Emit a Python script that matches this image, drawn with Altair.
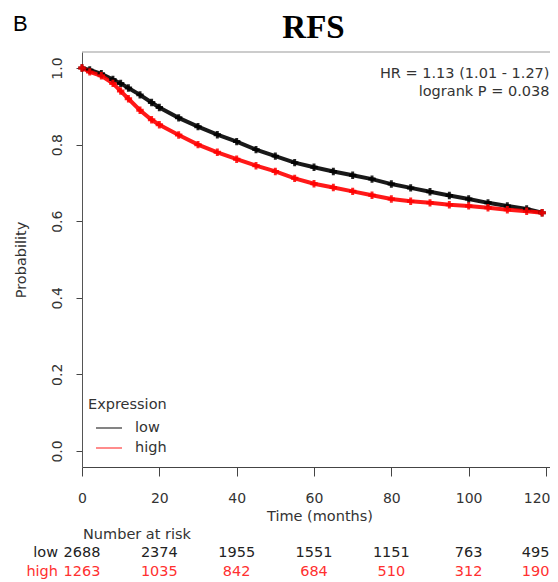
import altair as alt
import pandas as pd

# ---- data ----
times = [0, 2, 5, 8, 10, 12, 15, 18, 20, 25, 30, 35, 40, 45, 50, 55, 60, 65, 70, 75,
         80, 85, 90, 95, 100, 105, 110, 115, 119]
low_prob = [1.0, 0.995, 0.985, 0.97, 0.96, 0.948, 0.93, 0.91, 0.897, 0.87, 0.847, 0.826,
            0.808, 0.787, 0.77, 0.753, 0.741, 0.73, 0.72, 0.71, 0.697, 0.687, 0.677, 0.667,
            0.658, 0.648, 0.64, 0.632, 0.622]
high_prob = [1.0, 0.99, 0.98, 0.96, 0.94, 0.92, 0.89, 0.865, 0.852, 0.825, 0.8, 0.78,
             0.762, 0.745, 0.73, 0.712, 0.698, 0.688, 0.678, 0.668, 0.658, 0.652, 0.648,
             0.643, 0.64, 0.635, 0.63, 0.626, 0.622]

groups = ["low", "high"]
group_colors = ["#000000", "#ff0000"]

x_ticks = [0, 20, 40, 60, 80, 100, 120]
y_ticks = [0.0, 0.2, 0.4, 0.6, 0.8, 1.0]

risk_times = [0, 20, 40, 60, 80, 100, 120]
low_risk = [2688, 2374, 1955, 1551, 1151, 763, 495]
high_risk = [1263, 1035, 842, 684, 510, 312, 190]

panel_label = "B"
title_text = "RFS"
hr_text = "HR = 1.13 (1.01 - 1.27)"
p_text = "logrank P = 0.038"
x_title = "Time (months)"
y_title = "Probability"
legend_title = "Expression"
risk_title = "Number at risk"

FONT = "DejaVu Sans"
FS = 14.5
W, H = 468, 415          # svg stays inside the 542px body so the page is not rescaled
PX_PER_MONTH = 464 / 120
TOP = 44
BOTTOM = 113

df = pd.concat([
    pd.DataFrame({"time": times, "prob": low_prob, "group": "low"}),
    pd.DataFrame({"time": times, "prob": high_prob, "group": "high"}),
])

xscale = alt.Scale(domain=[0, W / PX_PER_MONTH], nice=False, zero=False)
yscale = alt.Scale(domain=[-0.042, 1.042], nice=False, zero=False)
cscale = alt.Scale(domain=groups, range=group_colors)

last_tick = x_ticks[-1]
xaxis = alt.Axis(values=x_ticks, title=None, grid=False, tickSize=9, tickColor="#444",
                 domainColor="#444", labelFontSize=14, labelColor="#333", labelFont=FONT,
                 labelPadding=15, format="d", labelFlush=False, labelOverlap=False,
                 labelAlign={"condition": {"test": f"datum.value === {last_tick}", "value": "right"},
                             "value": "center"},
                 labelOffset={"condition": {"test": f"datum.value === {last_tick}", "value": 4},
                              "value": 0})
yaxis = alt.Axis(values=y_ticks, title=None, grid=False, tickSize=6, tickColor="#444",
                 domainColor="#555", labelFontSize=14, labelColor="#333", labelFont=FONT,
                 labelAngle=270, labelAlign="center", labelBaseline="bottom",
                 labelPadding=12, format=".1f", labelFlush=False)

lines = alt.Chart(df).mark_line(strokeWidth=4, opacity=0.9).encode(
    x=alt.X("time:Q", scale=xscale, axis=xaxis),
    y=alt.Y("prob:Q", scale=yscale, axis=yaxis),
    color=alt.Color("group:N", scale=cscale, legend=None),
    order=alt.Order("time:Q"),
    detail="group:N",
)

pts = alt.Chart(df).mark_point(shape="cross", filled=True, size=55, opacity=0.85).encode(
    x=alt.X("time:Q", scale=xscale),
    y=alt.Y("prob:Q", scale=yscale),
    color=alt.Color("group:N", scale=cscale, legend=None),
)

top_border = alt.Chart(pd.DataFrame({"a": [0]})).mark_rule(color="#999", strokeWidth=1).encode(
    x=alt.value(0), x2=alt.value(W), y=alt.value(0))

def label(txt, x, y, size=FS, color="#333", align="center", angle=0, weight="normal",
          font=FONT, baseline="middle"):
    return alt.Chart(pd.DataFrame({"t": [txt]})).mark_text(
        fontSize=size, color=color, align=align, baseline=baseline, angle=angle,
        fontWeight=weight, font=font).encode(x=alt.value(x), y=alt.value(y), text="t:N")

def legline(color, y):
    return alt.Chart(pd.DataFrame({"a": [0]})).mark_rule(strokeWidth=1.2, color=color).encode(
        x=alt.value(14), x2=alt.value(40), y=alt.value(y))

ROW_LOW, ROW_HIGH = 501, 520
LOW_C, HIGH_C = "#222", "#ff3030"

texts = [
    label(panel_label, -69, -21, size=22, color="#000", font="Liberation Sans",
          align="left", baseline="alphabetic"),
    label(title_text, 231.5, -13.7, size=33, color="#000", weight="bold",
          font="Liberation Serif", baseline="alphabetic"),
    label(hr_text, 467.5, 21.5, align="right"),
    label(p_text, 467.5, 39.5, align="right"),
    label(x_title, 238, 465),
    label(y_title, -60, 208, angle=270),
    label(legend_title, 6, 353, align="left"),
    label(groups[0], 53, 376, align="left"),
    label(groups[1], 53, 396, align="left"),
    label(risk_title, 55, 483),
    label(groups[0], -24, ROW_LOW, align="right", color=LOW_C),
    label(groups[1], -24, ROW_HIGH, align="right", color=HIGH_C),
    # last column of the risk table sits at the right edge
    label(str(low_risk[-1]), W - 0.5, ROW_LOW, align="right", color=LOW_C),
    label(str(high_risk[-1]), W - 0.5, ROW_HIGH, align="right", color=HIGH_C),
    legline("#333", 376),
    legline("#ff4040", 396),
]

def risk_row(vals, y, color):
    return alt.Chart(pd.DataFrame({"time": risk_times[:-1], "n": vals[:-1]})).mark_text(
        fontSize=FS, font=FONT, align="center", baseline="middle", color=color).encode(
        x=alt.X("time:Q", scale=xscale), y=alt.value(y), text="n:N")

chart = alt.layer(top_border, lines, pts, risk_row(low_risk, ROW_LOW, LOW_C),
                  risk_row(high_risk, ROW_HIGH, HIGH_C), *texts).properties(
    width=W, height=H,
    autosize=alt.AutoSizeParams(type="none"),
    padding={"left": 74, "top": TOP, "right": 0, "bottom": BOTTOM},
).configure_view(stroke=None)

chart.save("out.html", embed_options={"renderer": "svg", "actions": False})
